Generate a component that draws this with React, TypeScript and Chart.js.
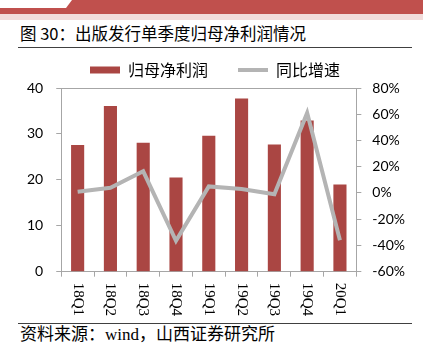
import React, { useEffect, useRef } from "react";
import { Chart, registerables } from "chart.js";

Chart.register(...registerables);

const categories = ["18Q1", "18Q2", "18Q3", "18Q4", "19Q1", "19Q2", "19Q3", "19Q4", "20Q1"];
const profit = [27.6, 36.1, 28.1, 20.5, 29.6, 37.7, 27.7, 32.9, 19.0];
const growth = [1, 4, 16.5, -36.5, 5, 3, -1, 61, -36];
const leftTicks = [0, 10, 20, 30, 40];
const rightTicks = [-60, -40, -20, 0, 20, 40, 60, 80];

const title = "图 30：出版发行单季度归母净利润情况";
const source = "资料来源：wind，山西证券研究所";
const profitLabel = "归母净利润";
const growthLabel = "同比增速";

const BAR = "#aa4643";
const LINE = "#b4b4b4";
const AXIS = "#a6a6a6";

const xLabelPlugin = {
  id: "xLabelsClockwise",
  afterDraw(chart: any) {
    const xs = chart.scales.x;
    const ctx = chart.ctx;
    ctx.save();
    ctx.fillStyle = "#000";
    ctx.font = "15px 'Liberation Serif', serif";
    ctx.textAlign = "left";
    ctx.textBaseline = "middle";
    const y0 = xs.top + 5 + 6;
    chart.data.labels.forEach((lab: string, i: number) => {
      const x = xs.getPixelForTick(i);
      ctx.save();
      ctx.translate(x, y0);
      ctx.rotate(Math.PI / 2);
      ctx.fillText(lab, 0, 0);
      ctx.restore();
    });
    ctx.restore();
  },
};

function ChartBox() {
  const ref = useRef<HTMLCanvasElement | null>(null);
  useEffect(() => {
    if (!ref.current) return;
    const chart = new Chart(ref.current, {
      type: "bar",
      data: {
        labels: categories,
        datasets: [
          {
            type: "bar",
            label: profitLabel,
            data: profit,
            yAxisID: "y",
            backgroundColor: BAR,
            borderWidth: 0,
            barPercentage: 0.4,
            categoryPercentage: 1,
            order: 1,
          } as any,
          {
            type: "line",
            label: growthLabel,
            data: growth,
            yAxisID: "y1",
            borderColor: LINE,
            backgroundColor: LINE,
            borderWidth: 4,
            pointRadius: 0,
            tension: 0,
            order: 0,
          } as any,
        ],
      },
      options: {
        responsive: false,
        animation: false,
        devicePixelRatio: 1,
        layout: { padding: { left: 14, right: 7, top: 0, bottom: 0 } },
        plugins: {
          tooltip: { enabled: false },
          legend: {
            display: true,
            position: "top",
            labels: {
              usePointStyle: true,
              pointStyleWidth: 30,
              boxHeight: 7,
              padding: 30,
              color: "#000",
              font: { size: 16, family: "'Noto Sans CJK SC', sans-serif" },
              generateLabels: () => [
                { text: profitLabel, fillStyle: BAR, strokeStyle: BAR, lineWidth: 0, pointStyle: "rect", datasetIndex: 0 } as any,
                { text: growthLabel, fillStyle: LINE, strokeStyle: LINE, lineWidth: 4, pointStyle: "line", datasetIndex: 1 } as any,
              ],
            },
          },
        },
        scales: {
          x: {
            offset: true,
            grid: { offset: true, drawOnChartArea: false, drawTicks: true, tickLength: 5, color: AXIS, tickColor: AXIS },
            border: { color: AXIS, width: 1 },
            ticks: {
              color: "transparent",
              minRotation: 90,
              maxRotation: 90,
              padding: 6,
              font: { size: 15, family: "'Liberation Serif', serif" },
            },
          },
          y: {
            position: "left",
            min: 0,
            max: 40,
            afterBuildTicks: (s: any) => { s.ticks = leftTicks.map((v) => ({ value: v })); },
            grid: {
              drawOnChartArea: true,
              color: (c: any) => (c.tick && c.tick.value === 40 ? AXIS : "transparent"),
              tickColor: AXIS,
              tickLength: 5,
            },
            border: { color: AXIS, width: 1 },
            ticks: { color: "#000", padding: 13, font: { size: 14, family: "Lato, sans-serif" } },
          },
          y1: {
            position: "right",
            min: -60,
            max: 80,
            afterBuildTicks: (s: any) => { s.ticks = rightTicks.map((v) => ({ value: v })); },
            grid: { drawOnChartArea: false, tickColor: AXIS, tickLength: 5 },
            border: { color: AXIS, width: 1 },
            ticks: {
              color: "#000",
              padding: 11,
              font: { size: 14, family: "Lato, sans-serif" },
              callback: (v: any) => v + "%",
            },
          },
        },
      },
      plugins: [xLabelPlugin],
    });
    return () => chart.destroy();
  }, []);
  return <canvas ref={ref} width={423} height={290} style={{ display: "block" }} />;
}

export default function App() {
  return (
    <div style={{ position: "fixed", left: 0, top: 0, width: 423, height: 353, background: "#fff", overflow: "hidden" }}>
      <div
        style={{
          position: "absolute", left: 0, top: 0, width: 423, height: 14, background: "#c0504d",
          clipPath: "polygon(72px 0, 423px 0, 423px 14px, 0 14px, 0 8px, 66px 8px)",
        }}
      />
      <div style={{ position: "absolute", left: 0, top: 14, width: 423, height: 6, background: "#f2dcdb" }} />
      <div
        style={{
          position: "absolute", left: 20, top: 22, whiteSpace: "nowrap", lineHeight: "22px",
          fontSize: 16.5, fontFamily: "'Noto Sans CJK SC', sans-serif", color: "#000",
        }}
      >
        {title}
      </div>
      <div style={{ position: "absolute", left: 18, top: 47, width: 394, height: 1, background: "#404040" }} />
      <div style={{ position: "absolute", left: 0, top: 32, width: 423, height: 290 }}>
        <ChartBox />
      </div>
      <div style={{ position: "absolute", left: 18, top: 323, width: 394, height: 1, background: "#404040" }} />
      <div
        style={{
          position: "absolute", left: 20, top: 324, whiteSpace: "nowrap", lineHeight: "22px",
          fontSize: 17, fontFamily: "'Liberation Serif', 'Noto Sans CJK SC', serif", color: "#000",
        }}
      >
        {source}
      </div>
    </div>
  );
}
